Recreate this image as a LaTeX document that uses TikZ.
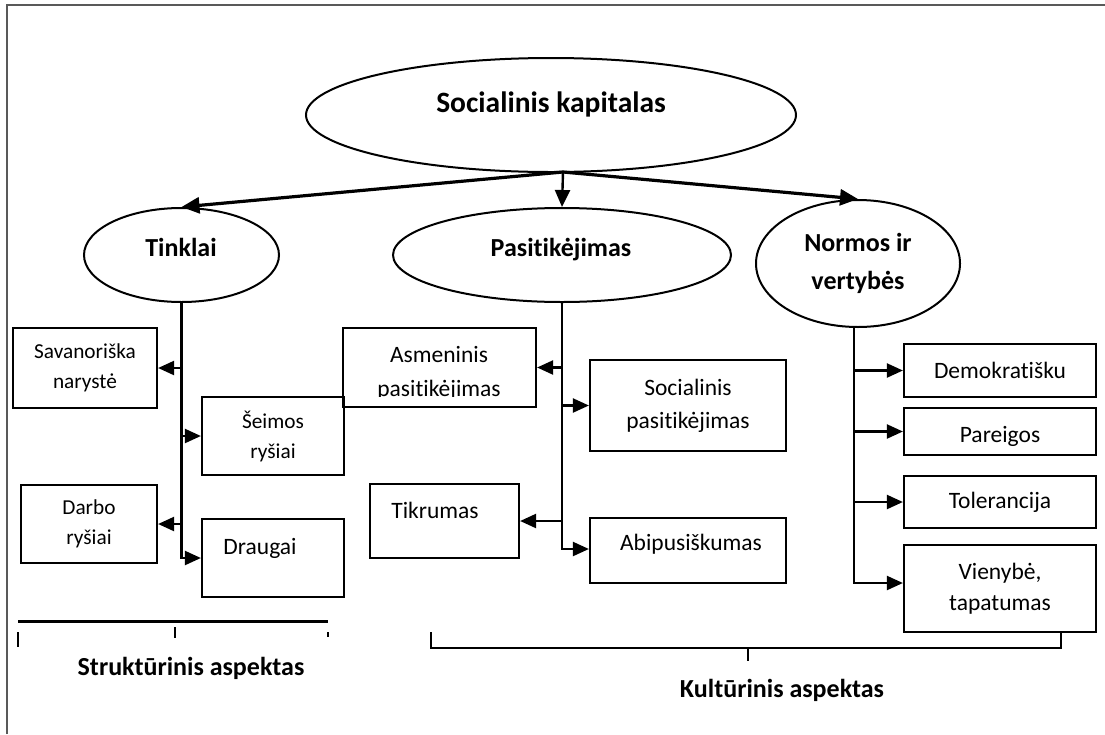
\documentclass[tikz,border=0pt]{standalone}
\usepackage{fontspec}
\setmainfont{Carlito}[Ligatures={NoCommon,NoContextual},Contextuals=NoAlternate]
\usetikzlibrary{shapes.geometric,arrows.meta}
\begin{document}
\begin{tikzpicture}[x=1pt,y=-1pt,
  box/.style={draw,line width=2.2pt,rectangle,inner sep=0pt,align=center,font=\fontsize{23.5}{33}\selectfont},
  smallbox/.style={box,font=\fontsize{21.3}{30}\selectfont},
  ell/.style={draw,line width=2pt,ellipse,inner sep=0pt},
  boldlbl/.style={inner sep=0pt,align=center,font=\bfseries\fontsize{26}{38}\selectfont},
  reglbl/.style={inner sep=0pt,align=center,font=\fontsize{23.5}{33}\selectfont},
  arr/.style={line width=2.2pt,-{Triangle[length=16pt,width=14pt]}},
  bigarr/.style={line width=3.2pt,-{Triangle[length=18pt,width=16pt]}},
  brk/.style={line width=1.8pt},
  frame/.style={line width=1.2pt,black!65}
]
\useasboundingbox (0,0) rectangle (1105,734);
% frame
\draw[frame] (7,734) -- (7,5) -- (1105,5);

% ellipses
\node[ell,minimum width=490pt,minimum height=114pt] (main) at (551,115) {};
\node[boldlbl,anchor=base,font=\bfseries\fontsize{29.5}{35}\selectfont] (mainl) at (551,112) {Socialinis kapitalas};
\node[ell,minimum width=195pt,minimum height=94pt] (tink) at (181.5,255) {};
\node[boldlbl,anchor=base] (tinkl) at (181,256) {Tinklai};
\node[ell,minimum width=338pt,minimum height=94pt] (pas) at (562,255) {};
\node[boldlbl,anchor=base] (pasl) at (561,256) {Pasitikėjimas};
\node[ell,minimum width=204pt,minimum height=127pt,align=center,font=\bfseries\fontsize{26}{38}\selectfont] (norm) at (858,263.5) {Normos ir\\vertybės};

% top arrows
\coordinate (hub) at (563,172);
\draw[bigarr] (hub) -- (tink.north);
\draw[line width=2.4pt,-{Triangle[length=17pt,width=15pt]}] (hub) -- (pas.north);
\draw[bigarr] (hub) -- (norm.north);

% left boxes
\node[smallbox,minimum width=144pt,minimum height=80pt] (sav) at (85,368) {Savanoriška\\narystė};
\node[smallbox,minimum width=142pt,minimum height=78pt] (seim) at (273,436) {Šeimos\\ryšiai};
\node[smallbox,minimum width=136pt,minimum height=78pt] (darb) at (89,524) {Darbo\\ryšiai};
\node[box,minimum width=142pt,minimum height=78pt] (drau) at (273,558) {};
\node[reglbl,anchor=base] (draul) at (260,554) {Draugai};

% middle boxes
\node[box,minimum width=193pt,minimum height=79pt] (asm) at (439.5,367.5) {};
\begin{scope}
  \clip ([xshift=1pt,yshift=-1pt]asm.north west) rectangle ([xshift=-1pt,yshift=12pt]asm.south east);
  \node[reglbl,font=\fontsize{23.5}{34}\selectfont] (asml) at (439,373) {Asmeninis\\pasitikėjimas};
\end{scope}
\node[box,minimum width=196pt,minimum height=91pt] (soc) at (688,405.5) {Socialinis\\pasitikėjimas};
\node[box,minimum width=149pt,minimum height=74pt] (tikr) at (444.5,521) {};
\node[reglbl,anchor=base] (tikrl) at (435,518) {Tikrumas};
\node[box,minimum width=196pt,minimum height=65pt] (abi) at (688,550.5) {};
\node[reglbl,anchor=base] (abil) at (691,550) {Abipusiškumas};

% right boxes
\node[box,minimum width=192pt,minimum height=53pt] (dem) at (1000,370.5) {Demokratišku};
\node[box,minimum width=192pt,minimum height=47pt] (par) at (1000,431.5) {};
\begin{scope}
  \clip ([xshift=1pt,yshift=-1pt]par.north west) rectangle ([xshift=-1pt,yshift=10pt]par.south east);
  \node[reglbl,anchor=base] (parl) at (1000,442) {Pareigos};
\end{scope}
\node[box,minimum width=192pt,minimum height=52pt] (tol) at (1000,502) {Tolerancija};
\node[box,minimum width=192pt,minimum height=87pt,font=\fontsize{23.5}{31}\selectfont] (vien) at (1000,588.5) {Vienybė,\\tapatumas};

% trunks and branches
\draw[arr] (tink.south) |- (drau.west);
\draw[arr] (tink.south |- sav.east) -- (sav.east);
\draw[arr] (tink.south |- seim.west) -- (seim.west);
\draw[arr] (tink.south |- darb.east) -- (darb.east);

\draw[arr] (pas.south) |- ([yshift=1.5pt]abi.west);
\draw[arr] (pas.south |- asm.east) -- (asm.east);
\draw[arr] (pas.south |- soc.west) -- (soc.west);
\draw[arr] (pas.south |- tikr.east) -- (tikr.east);

\coordinate (nt) at ([xshift=-4pt]norm.south);
\draw[arr] (nt) |- ([yshift=5.5pt]vien.west);
\draw[arr] (nt |- dem.west) -- (dem.west);
\draw[arr] (nt |- par.west) -- (par.west);
\draw[arr] (nt |- tol.west) -- (tol.west);

% brackets
\draw[line width=3pt] (18,621) -- (328,621);
\draw[brk] (18,632) -- (18,647);
\draw[brk] (175,627) -- (175,638);
\draw[brk] (328,632) -- (328,637);
\node[boldlbl,anchor=base] (struk) at (191,675) {Struktūrinis aspektas};

\draw[brk] (431,632) -- (431,648) -- (1061,648) -- (1061,632);
\draw[brk] (748,648) -- (748,661);
\node[boldlbl,anchor=base] (kult) at (782,697) {Kultūrinis aspektas};
\end{tikzpicture}
\end{document}
